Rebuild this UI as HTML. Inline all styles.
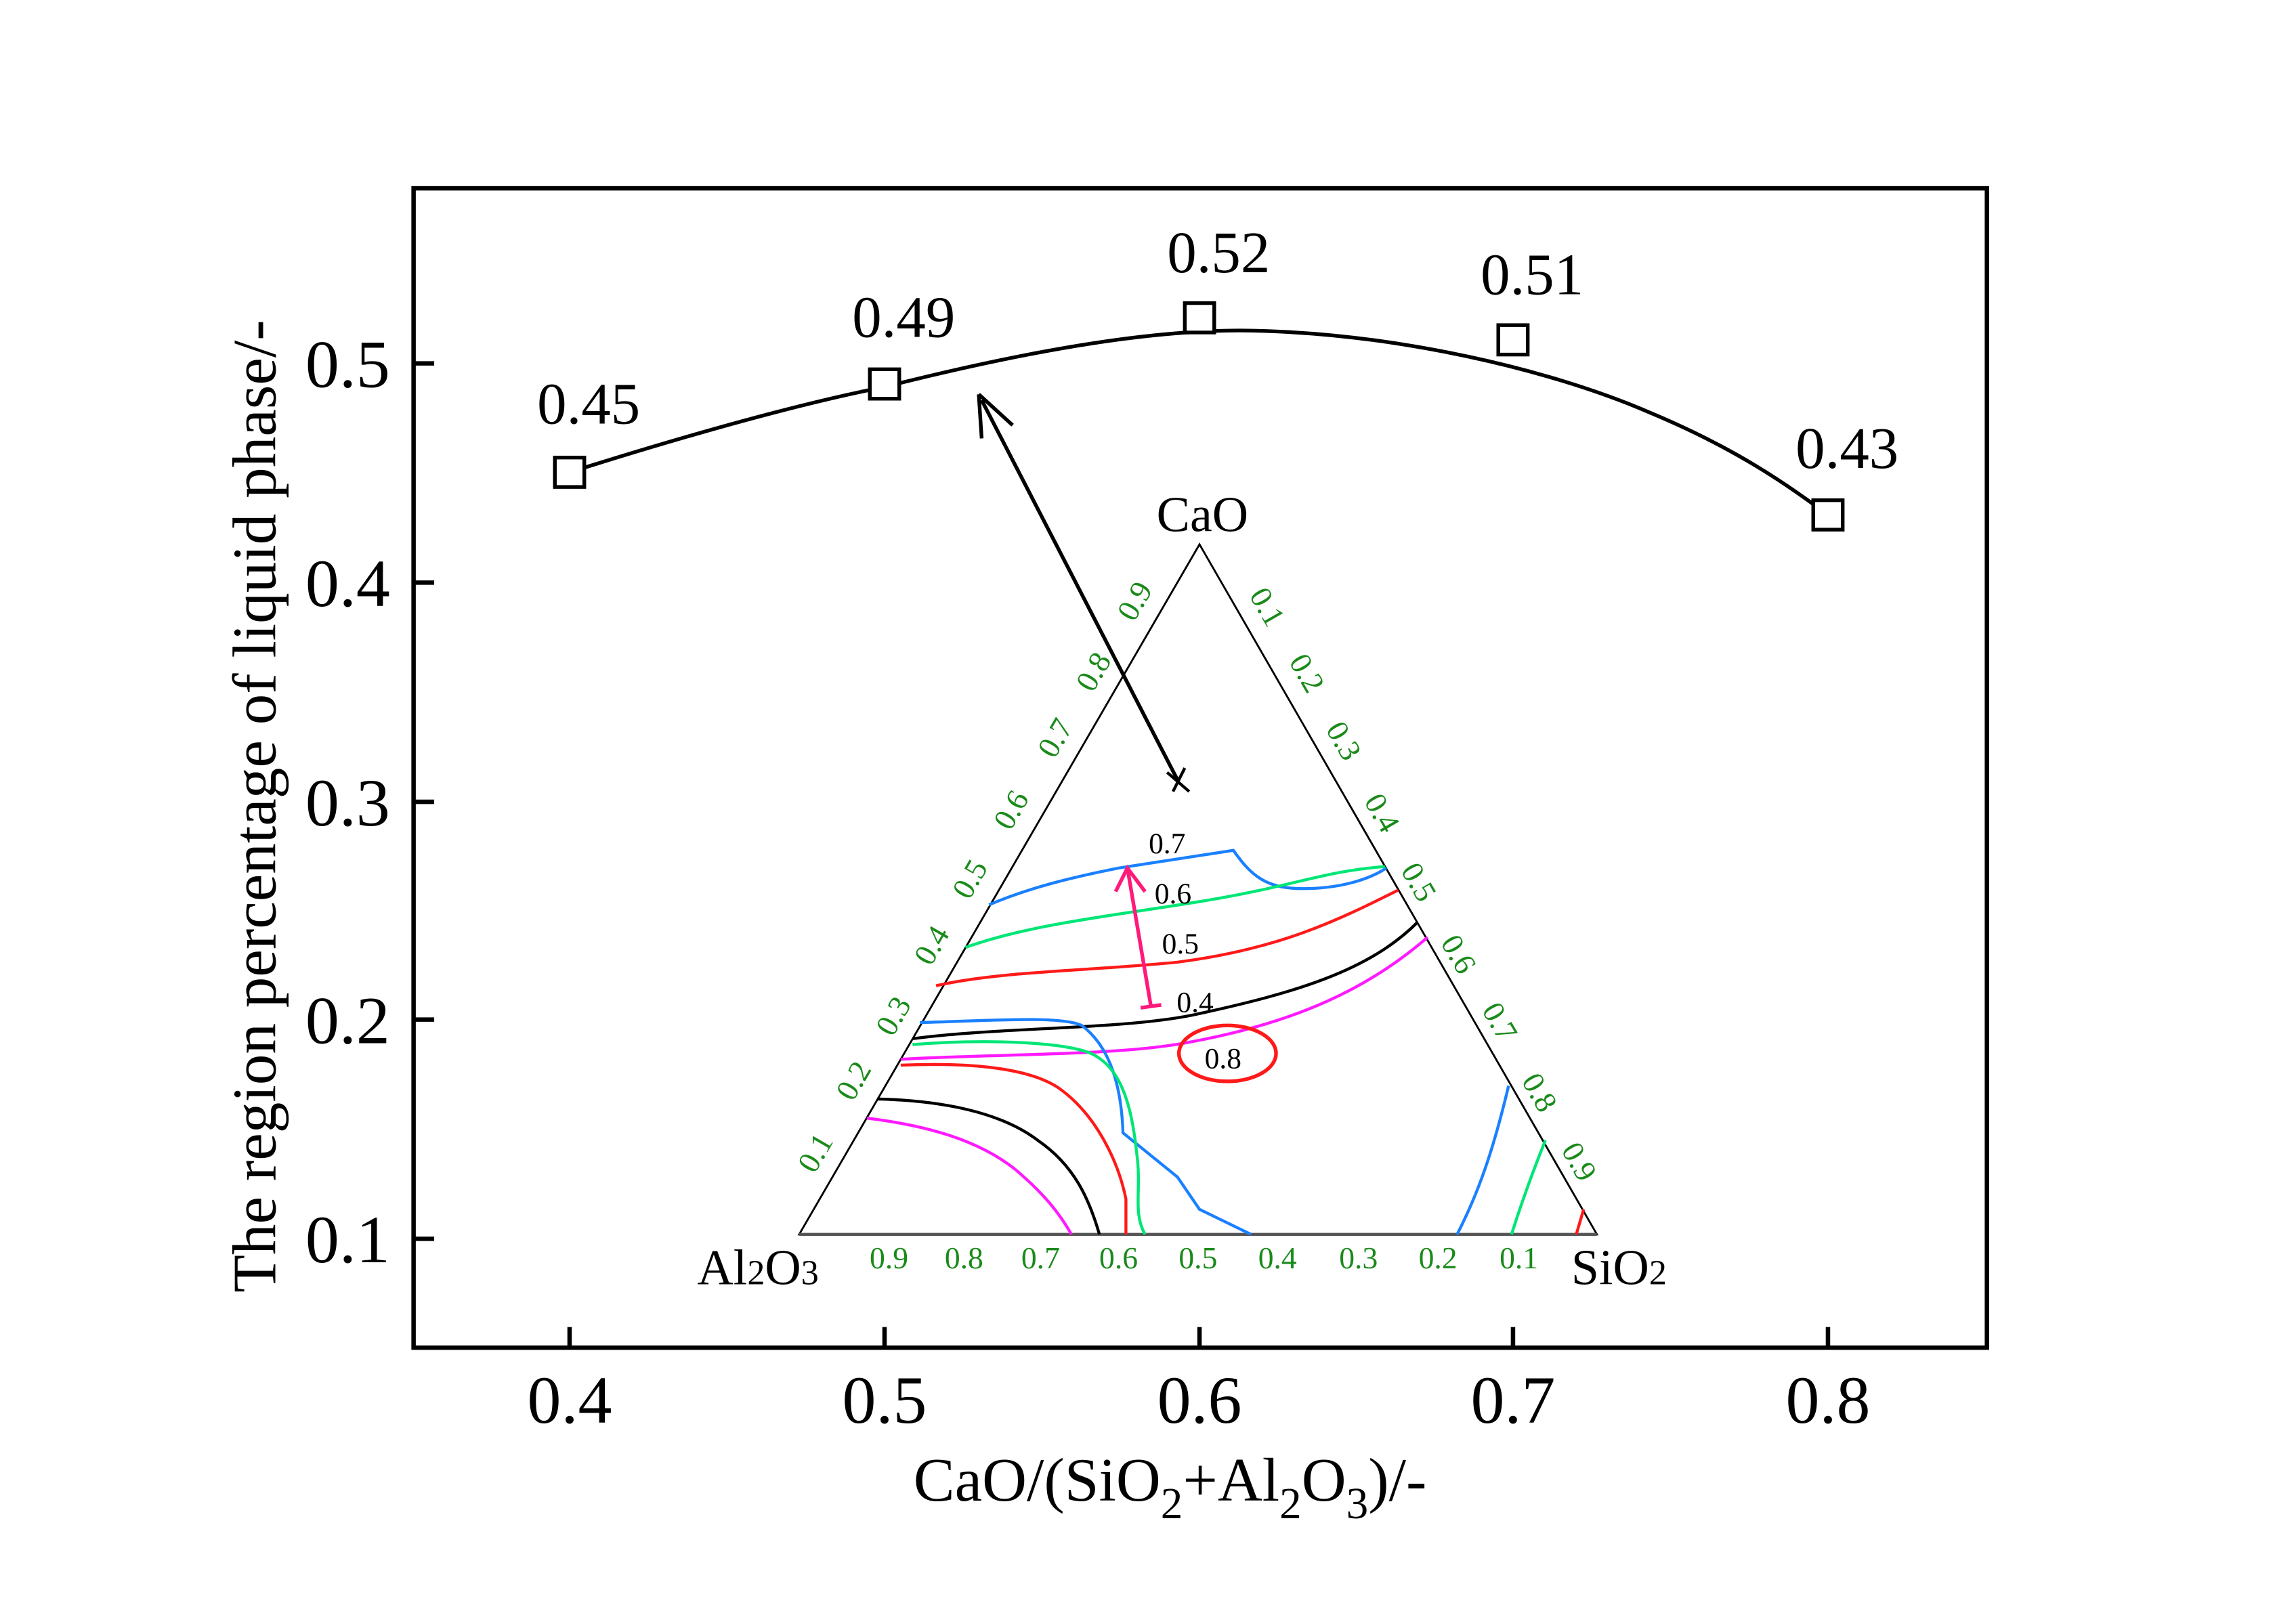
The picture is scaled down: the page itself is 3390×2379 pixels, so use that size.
<!DOCTYPE html>
<html><head><meta charset="utf-8"><style>
html,body{margin:0;padding:0;background:#fff;}
svg{display:block;}
text{font-family:"Liberation Serif",serif;}
</style></head><body>
<svg width="3390" height="2379" viewBox="0 0 1560 1095" preserveAspectRatio="none" xmlns="http://www.w3.org/2000/svg">
<rect x="0" y="0" width="1560" height="1095" fill="#fff"/>
<rect x="281" y="128" width="1069" height="788" fill="none" stroke="#000" stroke-width="3"/>
<g stroke="#000" stroke-width="3">
<line x1="387" y1="916" x2="387" y2="902"/><line x1="601" y1="916" x2="601" y2="902"/>
<line x1="815" y1="916" x2="815" y2="902"/><line x1="1028" y1="916" x2="1028" y2="902"/>
<line x1="1242" y1="916" x2="1242" y2="902"/>
<line x1="281" y1="247" x2="295" y2="247"/><line x1="281" y1="396" x2="295" y2="396"/>
<line x1="281" y1="545" x2="295" y2="545"/><line x1="281" y1="693" x2="295" y2="693"/>
<line x1="281" y1="842" x2="295" y2="842"/>
</g>
<g font-size="46" text-anchor="middle">
<text x="387" y="967">0.4</text><text x="601" y="967">0.5</text><text x="815" y="967">0.6</text>
<text x="1028" y="967">0.7</text><text x="1242" y="967">0.8</text>
</g>
<g font-size="46" text-anchor="end">
<text x="265" y="263">0.5</text><text x="265" y="412">0.4</text><text x="265" y="561">0.3</text>
<text x="265" y="709">0.2</text><text x="265" y="858">0.1</text>
</g>
<text x="795" y="1020" font-size="42" text-anchor="middle">CaO/(SiO<tspan font-size="30" dy="12">2</tspan><tspan dy="-12">+Al</tspan><tspan font-size="30" dy="12">2</tspan><tspan dy="-12">O</tspan><tspan font-size="30" dy="12">3</tspan><tspan dy="-12">)/-</tspan></text>
<text transform="translate(187,548) rotate(-90)" font-size="42" text-anchor="middle">The region percentage of liquid phase/-</text>
<path d="M387,321 C460,298 540,275 601,263 C700,238 790,222 860,225 C950,228 1050,250 1120,280 C1180,305 1215,330 1242,350" fill="none" stroke="#000" stroke-width="2.5"/>
<g fill="#fff" stroke="#000" stroke-width="2.5">
<rect x="377" y="311" width="20" height="20"/><rect x="591" y="251" width="20" height="20"/>
<rect x="805" y="206" width="20" height="20"/><rect x="1018" y="221" width="20" height="20"/>
<rect x="1232" y="340" width="20" height="20"/>
</g>
<g font-size="40" text-anchor="middle">
<text x="400" y="288">0.45</text><text x="614" y="229">0.49</text><text x="828" y="185">0.52</text>
<text x="1041" y="200">0.51</text><text x="1255" y="318">0.43</text>
</g>
<line x1="800" y1="530" x2="667" y2="272" stroke="#000" stroke-width="2.5"/>
<path d="M665,268 L667,298 M665,268 L688,289" stroke="#000" stroke-width="2.5" fill="none"/>
<path d="M793,525 L808,538 M797,538 L805,522" stroke="#000" stroke-width="2"/>
<path d="M815,370 L543,839 L1085,839 Z" fill="none" stroke="#000" stroke-width="1.3"/>
<line x1="543" y1="839" x2="1085" y2="839" stroke="#555" stroke-width="2"/>
<g font-size="34" text-anchor="middle">
<text x="817" y="361">CaO</text>
<text x="515" y="873">Al<tspan font-size="24">2</tspan>O<tspan font-size="24">3</tspan></text>
<text x="1100" y="873">SiO<tspan font-size="24">2</tspan></text>
</g>
<g font-size="21" fill="#1a8a1a" text-anchor="middle">
<text x="604" y="862">0.9</text><text x="655" y="862">0.8</text><text x="707" y="862">0.7</text>
<text x="760" y="862">0.6</text><text x="814" y="862">0.5</text><text x="868" y="862">0.4</text>
<text x="923" y="862">0.3</text><text x="977" y="862">0.2</text><text x="1032" y="862">0.1</text>
<text transform="translate(560,787) rotate(-60)">0.1</text>
<text transform="translate(586,738) rotate(-60)">0.2</text>
<text transform="translate(613,694) rotate(-60)">0.3</text>
<text transform="translate(639,646) rotate(-60)">0.4</text>
<text transform="translate(665,601) rotate(-60)">0.5</text>
<text transform="translate(693,554) rotate(-60)">0.6</text>
<text transform="translate(723,505) rotate(-60)">0.7</text>
<text transform="translate(749,460) rotate(-60)">0.8</text>
<text transform="translate(777,412) rotate(-60)">0.9</text>
<text transform="translate(855,416) rotate(60)">0.1</text>
<text transform="translate(882,461) rotate(60)">0.2</text>
<text transform="translate(907,507) rotate(60)">0.3</text>
<text transform="translate(933,556) rotate(60)">0.4</text>
<text transform="translate(958,603) rotate(60)">0.5</text>
<text transform="translate(985,652) rotate(60)">0.6</text>
<text transform="translate(1013,698) rotate(60)">0.7</text>
<text transform="translate(1040,746) rotate(60)">0.8</text>
<text transform="translate(1067,793) rotate(60)">0.9</text>
</g>
<g fill="none" stroke-width="2">
<path d="M672,615 C700,603 730,596 760,590 L838,578 C850,595 860,604 885,604 C910,604 930,598 942,590" stroke="#1a80ff"/>
<path d="M656,644 C700,628 760,622 820,612 C880,602 900,592 941,589" stroke="#00e676"/>
<path d="M636,670 C680,660 740,660 800,654 C870,645 910,625 950,605" stroke="#ff1a1a"/>
<path d="M620,706 C680,698 760,700 810,690 C880,675 930,660 963,627" stroke="#000"/>
<path d="M612,720 C680,716 760,718 810,708 C880,695 930,672 970,637" stroke="#ff1aff"/>
<path d="M625,695 C670,694 720,690 735,697 C755,712 762,740 763,770 L800,800 L815,822 L850,839" stroke="#1a80ff"/>
<path d="M620,710 C670,706 730,708 745,718 C765,730 770,760 773,790 C775,810 770,825 778,839" stroke="#00e676"/>
<path d="M612,724 C660,722 700,726 720,740 C745,758 760,790 765,815 L765,839" stroke="#ff1a1a"/>
<path d="M596,747 C640,748 680,756 705,775 C730,792 740,815 747,839" stroke="#000"/>
<path d="M589,760 C630,765 665,775 690,795 C710,812 720,825 728,839" stroke="#ff1aff"/>
<path d="M1025,738 C1015,780 1005,810 990,839" stroke="#1a80ff"/>
<path d="M1050,775 C1040,800 1033,820 1027,839" stroke="#00e676"/>
<path d="M1076,822 L1071,839" stroke="#ff1a1a"/>
</g>
<g font-size="20" text-anchor="middle">
<text x="793" y="580">0.7</text><text x="797" y="614">0.6</text><text x="802" y="648">0.5</text>
<text x="812" y="688">0.4</text><text x="831" y="726">0.8</text>
</g>
<ellipse cx="834" cy="716" rx="33" ry="19" fill="none" stroke="#ff1a1a" stroke-width="2.5"/>
<g stroke="#ff1a7a" stroke-width="2.5" fill="none">
<line x1="782" y1="684" x2="766" y2="590"/>
<path d="M758,606 L766,590 L778,606"/>
<line x1="775" y1="685" x2="789" y2="683"/>
</g>
</svg>
</body></html>
